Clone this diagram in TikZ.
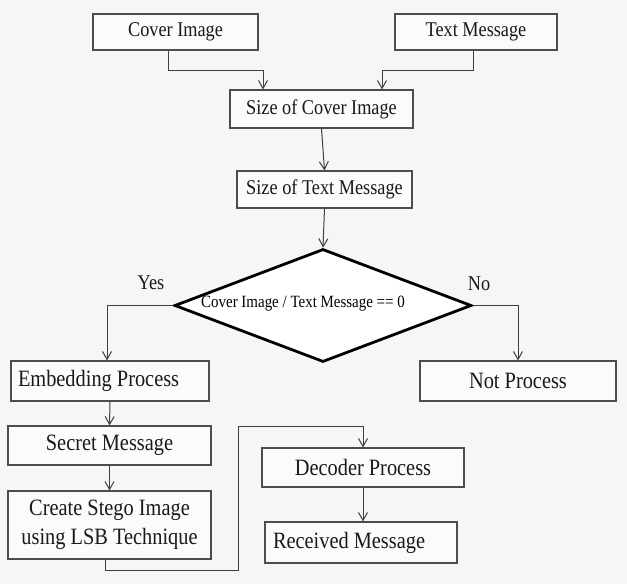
\documentclass[tikz,border=0pt]{standalone}
\usepackage{fontspec}
\setmainfont{Liberation Serif}[FakeStretch=0.87]
\usetikzlibrary{shapes.geometric,arrows.meta}
\definecolor{paper}{HTML}{F6F6F6}
\definecolor{boxfill}{HTML}{FBFBFB}
\definecolor{edge}{HTML}{4D4D4D}
\definecolor{wire}{HTML}{3F3F3F}
\begin{document}
\begin{tikzpicture}[x=1pt,y=-1pt,
  box/.style={draw=edge, line width=1.1pt, fill=boxfill, inner sep=0pt, align=center, text=black!90},
  big/.style={box, font=\fontsize{23.4}{29}\selectfont},
  small/.style={box, font=\fontsize{21}{25}\selectfont},
  arr/.style={draw=wire, line width=1pt, -{Straight Barb[length=8pt,width=9pt]}},
  decision/.style={diamond, draw=black, line width=2.8pt, fill=white, inner sep=0pt, aspect=2.6},
  answer/.style={font=\fontsize{21}{25}\selectfont, inner sep=0pt, text=black!90}
]
% page and background
\fill[paper] (0,0) rectangle (627,584);
\useasboundingbox (0,0) rectangle (627,584);

% inputs
\node[small, minimum width=165pt, minimum height=36pt] (cover) at (175.5,32) {Cover Image};
\node[small, minimum width=162pt, minimum height=36pt] (text) at (476,32) {Text Message};

% size computations
\node[small, minimum width=183pt, minimum height=38pt] (sizecover) at (321.5,109) {Size of Cover Image};
\node[small, minimum width=175pt, minimum height=37pt] (sizetext) at (324.5,189.5) {Size of Text Message};

% decision
\node[decision, minimum width=297pt, minimum height=113pt] (cond) at (323,305.5) {};
\node[font=\fontsize{17.2}{20}\selectfont, inner sep=0pt] (condtext) at (303,304) {Cover Image / Text Message == 0};
\node[answer] (yes) at (151,283) {Yes};
\node[answer] (no) at (479,284) {No};

% branches
\node[big, minimum width=198pt, minimum height=40pt] (embed) at (110,381) {\makebox[184pt][l]{Embedding Process}};
\node[big, minimum width=196pt, minimum height=40pt] (notp) at (518,381) {Not Process};
\node[big, minimum width=203pt, minimum height=39pt] (secret) at (109.5,445.5) {Secret Message};
\node[big, minimum width=203pt, minimum height=68pt] (create) at (109.5,525) {Create Stego Image\\using LSB Technique};
\node[big, minimum width=202pt, minimum height=39pt] (decoder) at (363,467.5) {Decoder Process};
\node[big, minimum width=192pt, minimum height=41pt] (received) at (361,542.5) {\makebox[176pt][l]{Received Message}};

% connectors
\draw[arr] ([xshift=-7.5pt]cover.south) -- ++(0,20) -| ([xshift=-58.5pt]sizecover.north);
\draw[arr] ([xshift=-3pt]text.south) -- ++(0,20) -| ([xshift=60.5pt]sizecover.north);
\draw[arr] (sizecover.south) -- (sizetext.north);
\draw[arr] (sizetext.south) -- (cond.north);
\draw[arr] (cond.west) -| ([xshift=-3pt]embed.north);
\draw[arr] (cond.east) -| (notp.north);
\draw[arr] (embed.south) -- (secret.north);
\draw[arr] (secret.south) -- (create.north);
\coordinate (bend) at (238,570);
\draw[arr] ([xshift=-4.5pt]create.south) |- (bend) |- (363,426) -- (decoder.north);
\draw[arr] (decoder.south) -- (decoder.south |- received.north);
\end{tikzpicture}
\end{document}
